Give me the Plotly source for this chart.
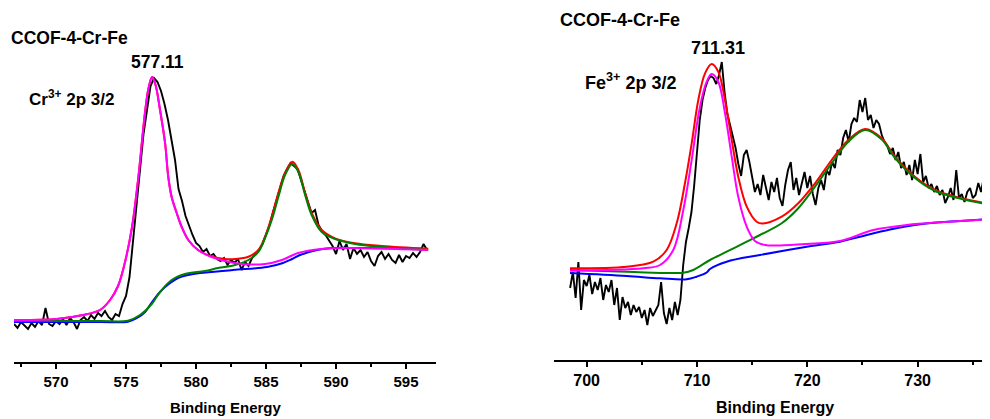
import numpy as np
import plotly.graph_objects as go

# page body adds an 8px margin, so the figure is 8px smaller than the window
OFF = 8
W, H = 990 - OFF, 419 - OFF

# ---------------- Cr 2p (left panel) ----------------
cr_start, cr_step = 567.0, 0.25
cr_counts = [38, 34, 40, 36, 33, 39, 35, 41, 37, 54, 38, 36, 41, 38, 43, 37, 44, 40, 33, 42,
             45, 41, 47, 43, 49, 46, 51, 45, 42, 48, 46, 58, 66, 85, 122, 155, 192, 228, 252, 276,
             284, 280, 271, 258, 242, 220, 202, 173, 161, 146, 136, 127, 119, 116, 110, 113, 106, 108, 103, 101,
             104, 97, 102, 99, 103, 92, 100, 96, 104, 108, 112, 118, 128, 137, 150, 162, 176, 186, 193, 199,
             196, 193, 182, 170, 160, 149, 152, 137, 131, 127, 121, 116, 108, 121, 112, 118, 103, 114, 108, 112,
             105, 110, 101, 96, 106, 110, 103, 108, 102, 99, 107, 100, 106, 104, 109, 105, 110, 118, 112]

cr_p1_x = [567.0, 570.05, 571.93, 573.14, 573.86, 574.43, 574.93, 575.43, 575.86, 576.36, 576.61, 576.86,
           577.11, 577.43, 577.79, 578.02, 578.26, 578.62, 578.98, 579.45, 580.14, 581.12, 582.07, 583.29,
           584.93, 586.14, 587.29, 589.0, 590.86, 596.57]
cr_p1_y = [42, 43, 47, 52, 62, 76, 100, 135, 182, 250, 274, 285, 277, 252, 219, 185, 165, 149, 135, 122,
           112, 105, 101, 98, 98, 102, 109, 113, 114, 112]

cr_bg_x = [567.0, 573.14, 575.14, 575.79, 576.36, 576.71, 577.07, 577.43, 577.79, 578.26, 578.71, 579.43,
           580.29, 582.64, 585.07, 586.21, 586.86, 587.43, 588.64, 589.79, 591.71, 596.57]
cr_bg_y = [40, 40, 40.3, 44, 50, 57, 64, 70, 75, 80, 84, 87, 89, 92, 95, 99, 103, 107, 112, 114, 114, 113]

cr_p2_x = [567.0, 573.14, 575.14, 576.0, 576.84, 577.43, 578.26, 579.21, 580.64, 581.57, 582.79, 583.74,
           584.45, 584.93, 585.41, 585.88, 586.36, 586.88, 587.31, 587.79, 588.26, 588.98, 589.93, 591.36,
           593.26, 596.59]
cr_p2_y = [41, 41, 41.3, 47, 58, 70, 82, 88, 91, 94, 97, 102, 110, 124, 142, 165, 187, 198, 190, 167, 147,
           130, 123, 118, 115, 112]

cr_env_x = cr_p1_x[:21] + [581.12, 582.07, 582.79, 583.74, 584.45, 584.93, 585.41, 585.88, 586.36, 586.88,
                          587.31, 587.79, 588.26, 588.98, 589.93, 591.36, 593.26, 596.59]
cr_env_y = cr_p1_y[:21] + [105.5, 103, 103, 105.3, 112, 125.3, 145.3, 169, 189, 200.3, 192, 169, 149, 132,
                          123.7, 118.7, 116, 113.3]

# ---------------- Fe 2p (right panel) ----------------
fe_start, fe_step = 698.5, 0.25
fe_counts = [72, 88, 62, 98, 50, 80, 74, 85, 66, 78, 70, 82, 60, 75, 68, 80, 55, 72, 40, 63,
             52, 58, 45, 55, 48, 53, 42, 50, 35, 52, 44, 49, 55, 78, 47, 36, 52, 40, 58, 45,
             60, 95, 118, 132, 148, 175, 212, 240, 260, 272, 280, 284, 282, 276, 285, 298, 268, 246, 235, 224,
             212, 196, 184, 205, 210, 198, 182, 168, 176, 165, 185, 172, 160, 178, 168, 182, 162, 154, 175, 190,
             198, 170, 182, 165, 178, 188, 172, 184, 166, 155, 172, 180, 170, 190, 185, 198, 192, 210, 205, 222,
             230, 218, 236, 242, 238, 260, 248, 262, 240, 245, 232, 240, 236, 225, 218, 214, 206, 212, 200, 208,
             192, 198, 185, 195, 180, 200, 186, 206, 178, 184, 172, 176, 168, 174, 165, 170, 157, 163, 172, 160,
             190, 162, 166, 158, 168, 172, 162, 165, 177, 168, 183, 145]

fe_env_x = [698.49, 703.63, 706.04, 707.25, 708.16, 708.91, 709.52, 710.12, 710.73, 711.33, 711.93, 712.54,
            713.15, 713.74, 714.51, 715.41, 715.94, 717.68, 719.18, 720.70, 722.21, 723.72, 725.23, 726.75,
            727.95, 729.76, 731.58, 734.0, 736.5]
fe_env_y = [91.7, 93.3, 98.3, 110, 136.7, 176.7, 216.7, 260, 286.7, 296, 288.3, 260, 220, 183.3, 153.3,
            138.3, 136.5, 143.3, 156.7, 176.7, 200, 220, 231, 221.7, 203.3, 183.3, 170, 161.7, 156]

fe_p2_x = [698.49, 703.63, 708.76, 709.66, 711.18, 712.69, 714.51, 715.71, 717.68, 719.18, 720.70, 722.21,
           723.72, 725.23, 726.75, 727.95, 729.76, 731.58, 734.0, 736.5]
fe_p2_y = [90, 88.3, 87.3, 90, 100, 108.3, 118.3, 125, 136.7, 151.7, 173.3, 196.7, 218.3, 230, 220.5, 202,
           182, 169, 161, 155.5]

fe_bg_x = [698.49, 703.63, 706.65, 709.07, 709.97, 710.88, 711.18, 712.69, 715.71, 719.95, 722.96, 724.78,
           727.5, 730.4, 733.0, 736.4]
fe_bg_y = [87, 84, 81.7, 80.7, 83.3, 87.5, 91, 98.3, 105, 113.3, 118.3, 123.3, 130.5, 136, 138.5, 141]

fe_p1_x = [698.49, 705.13, 706.65, 707.85, 708.76, 709.52, 710.27, 710.88, 711.33, 711.93, 712.54, 713.15,
           713.74, 714.51, 715.26, 716.17, 717.5, 719.95, 722.96, 725.98, 729.01, 736.4]
fe_p1_y = [89.3, 91.7, 95, 110, 150, 200, 253.3, 278.3, 286, 278.3, 246.7, 203.3, 163.3, 133.3, 119, 115,
           114.5, 116, 119, 130, 135, 140.5]

cr_x = cr_start + cr_step * np.arange(len(cr_counts))
fe_x = fe_start + fe_step * np.arange(len(fe_counts))

FONT = "Liberation Sans, Arial, sans-serif"
RED, MAG, GRN, BLU = "#FF0000", "#FF00FF", "#008000", "#0000FF"

fig = go.Figure()


def add_panel(xa, ya, data_x, data_y, bg, env, p2, p1):
    fig.add_trace(go.Scatter(x=data_x, y=data_y, mode="lines", line=dict(color="black", width=1.9),
                             xaxis=xa, yaxis=ya, showlegend=False))
    for (cx, cy), col in [(bg, BLU), (env, RED), (p2, GRN), (p1, MAG)]:
        fig.add_trace(go.Scatter(x=cx, y=cy, mode="lines",
                                 line=dict(color=col, width=2.0, shape="spline", smoothing=1.0),
                                 xaxis=xa, yaxis=ya, showlegend=False))


add_panel("x", "y", cr_x, cr_counts, (cr_bg_x, cr_bg_y), (cr_env_x, cr_env_y),
          (cr_p2_x, cr_p2_y), (cr_p1_x, cr_p1_y))
add_panel("x2", "y2", fe_x, fe_counts, (fe_bg_x, fe_bg_y), (fe_env_x, fe_env_y),
          (fe_p2_x, fe_p2_y), (fe_p1_x, fe_p1_y))


def fx(p):
    return (p - OFF) / W


def fy(p):
    return 1 - (p - OFF) / H


def xaxis_style(dom, rng, dtick, minor_dtick, tsize, anchor):
    return dict(domain=dom, range=rng, showline=True, linecolor="black", linewidth=2,
                ticks="outside", ticklen=5, tickwidth=1.6, tickcolor="black",
                dtick=dtick, tick0=0, showgrid=False, zeroline=False, anchor=anchor,
                tickfont=dict(family=FONT, size=tsize, color="black", weight="bold"),
                minor=dict(ticks="outside", ticklen=3, tickwidth=1.6, tickcolor="black", dtick=minor_dtick,
                           showgrid=False))


fig.update_layout(
    width=W, height=H, margin=dict(l=0, r=0, t=0, b=0),
    paper_bgcolor="white", plot_bgcolor="white",
    xaxis=xaxis_style([fx(14), fx(436)], [567, 597.14], 5, 2.5, 15, "y"),
    yaxis=dict(domain=[fy(362), fy(12)], range=[0, 350], visible=False, anchor="x"),
    xaxis2=xaxis_style([fx(554), 1.0], [697.04, 736.56], 10, 5, 16, "y2"),
    yaxis2=dict(domain=[fy(360), fy(12)], range=[0, 348], visible=False, anchor="x2"),
)

ann = [
    ("CCOF-4-Cr-Fe", 9, 38, "left", 17.5),
    ("577.11", 157, 62, "center", 17.5),
    ("Cr<sup>3+</sup> 2p 3/2", 27, 98, "left", 17),
    ("Binding Energy", 225, 407, "center", 15),
    ("CCOF-4-Cr-Fe", 558, 20, "left", 18),
    ("711.31", 717.5, 48, "center", 18),
    ("Fe<sup>3+</sup> 2p 3/2", 583, 81, "left", 18),
    ("Binding Energy", 775, 407, "center", 16),
]
for text, x, y, xa, size in ann:
    fig.add_annotation(text=text, x=fx(x), y=fy(y), xref="paper", yref="paper", xanchor=xa,
                       yanchor="middle", showarrow=False,
                       font=dict(family=FONT, size=size, color="black", weight="bold"))

fig.write_html("out.html")
